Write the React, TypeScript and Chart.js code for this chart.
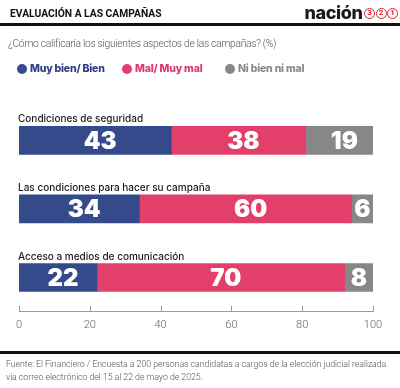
import React, { useEffect, useRef } from "react";
import { Chart, registerables } from "chart.js";

Chart.register(...registerables);

const categories = [
  "Condiciones de seguridad",
  "Las condiciones para hacer su campaña",
  "Acceso a medios de comunicación",
];
const seriesNames = ["Muy bien/ Bien", "Mal/ Muy mal", "Ni bien ni mal"];
const muyBien = [43, 34, 22];
const malMuyMal = [38, 60, 70];
const niBienNiMal = [19, 6, 8];
const xTickValues = [0, 20, 40, 60, 80, 100];

const barColors = ["#354a8b", "#e2406b", "#878787"];
const legendTextColors = ["#2c3e82", "#e0366a", "#8a8a8a"];

const overlayPlugin = {
  id: "overlayPlugin",
  afterDatasetsDraw(chart: any) {
    const ctx = chart.ctx;
    chart.data.datasets.forEach((ds: any, di: number) => {
      const meta = chart.getDatasetMeta(di);
      meta.data.forEach((bar: any, i: number) => {
        const { x, y } = bar.getCenterPoint();
        const p = bar.getProps(["x", "base"], true);
        const w = Math.abs(p.x - p.base);
        const shift = w > 40 ? 5 : 0;
        ctx.save();
        ctx.font = "900 24px Inter";
        ctx.fillStyle = "#ffffff";
        ctx.textAlign = "center";
        ctx.textBaseline = "middle";
        ctx.fillText(String(ds.data[i]), x + shift, y + 1);
        ctx.restore();
      });
    });
    const meta0 = chart.getDatasetMeta(0);
    meta0.data.forEach((bar: any, i: number) => {
      const p = bar.getProps(["y", "height"], true);
      ctx.save();
      ctx.font = "500 10px Inter";
      ctx.fillStyle = "#1a1a1a";
      ctx.textAlign = "left";
      ctx.textBaseline = "alphabetic";
      ctx.fillText(categories[i], chart.chartArea.left - 1, p.y - p.height / 2 - 4);
      ctx.restore();
    });
  },
  afterDraw(chart: any) {
    const ctx = chart.ctx;
    const xs = chart.scales.x;
    ctx.save();
    ctx.strokeStyle = "#9a9a9a";
    ctx.lineWidth = 1;
    xs.ticks.forEach((t: any) => {
      const px = Math.round(xs.getPixelForValue(t.value)) + 0.5;
      ctx.beginPath();
      ctx.moveTo(px, xs.top);
      ctx.lineTo(px, xs.top - 6);
      ctx.stroke();
    });
    ctx.restore();
  },
};

function ChartCanvas() {
  const ref = useRef<HTMLCanvasElement | null>(null);
  useEffect(() => {
    if (!ref.current) return;
    const chart = new Chart(ref.current, {
      type: "bar",
      data: {
        labels: categories,
        datasets: [
          { label: seriesNames[0], data: muyBien, backgroundColor: barColors[0] },
          { label: seriesNames[1], data: malMuyMal, backgroundColor: barColors[1] },
          { label: seriesNames[2], data: niBienNiMal, backgroundColor: barColors[2] },
        ],
      },
      options: {
        indexAxis: "y",
        responsive: false,
        animation: false,
        devicePixelRatio: 1,
        datasets: { bar: { barThickness: 28 } },
        layout: { padding: { top: 106, left: 19, right: 27, bottom: 49 } },
        plugins: {
          legend: { display: false },
          tooltip: { enabled: false },
        },
        scales: {
          x: {
            stacked: true,
            min: 0,
            max: 100,
            afterBuildTicks: (scale: any) => {
              scale.ticks = xTickValues.map((v) => ({ value: v }));
            },
            grid: { display: false, drawTicks: false },
            border: { display: true, color: "#9a9a9a", width: 1 },
            ticks: {
              padding: 7,
              color: "#666666",
              font: { family: "Roboto", size: 11, weight: 300 },
            },
          },
          y: {
            stacked: true,
            display: false,
          },
        },
      },
      plugins: [overlayPlugin],
    } as any);
    return () => chart.destroy();
  }, []);
  return (
    <canvas
      ref={ref}
      width={400}
      height={388}
      style={{ position: "absolute", left: 0, top: 0, width: 400, height: 388 }}
    />
  );
}

function Circled({ n }: { n: string }) {
  return (
    <span
      style={{
        display: "inline-flex",
        alignItems: "center",
        justifyContent: "center",
        width: 9,
        height: 9,
        borderRadius: "50%",
        border: "1.5px solid #d8232a",
        color: "#d8232a",
        fontSize: 8,
        fontWeight: 700,
        fontFamily: "Roboto",
        marginLeft: 0.5,
        lineHeight: 1,
      }}
    >
      {n}
    </span>
  );
}

export default function App() {
  return (
    <div
      style={{
        position: "absolute",
        left: 0,
        top: 0,
        width: 400,
        height: 388,
        background: "#ffffff",
        overflow: "hidden",
      }}
    >
      <ChartCanvas />
      <div
        style={{
          position: "absolute",
          left: 10,
          top: 7,
          fontFamily: "Roboto",
          fontWeight: 700,
          fontSize: 10.3,
          color: "#111",
          lineHeight: "14px",
        }}
      >
        EVALUACIÓN A LAS CAMPAÑAS
      </div>
      <div
        style={{
          position: "absolute",
          right: 2,
          top: 3,
          display: "flex",
          alignItems: "center",
          fontFamily: "Inter",
          fontWeight: 800,
          fontSize: 18,
          color: "#1a1a1a",
          lineHeight: "20px",
        }}
      >
        <span style={{ letterSpacing: -0.4, marginRight: 1 }}>nación</span>
        <Circled n="3" />
        <Circled n="2" />
        <Circled n="1" />
      </div>
      <div
        style={{
          position: "absolute",
          left: 0,
          top: 23,
          width: 400,
          height: 2.5,
          background: "#111",
        }}
      />
      <div
        style={{
          position: "absolute",
          left: 8,
          top: 37,
          fontFamily: "Roboto",
          fontWeight: 300,
          fontSize: 10.3,
          letterSpacing: -0.3,
          color: "#555",
          lineHeight: "14px",
          whiteSpace: "nowrap",
        }}
      >
        ¿Cómo calificaría los siguientes aspectos de las campañas? (%)
      </div>
      {seriesNames.map((name, i) => (
        <div
          key={name}
          style={{
            position: "absolute",
            left: [17, 122, 225][i],
            top: 62,
            display: "flex",
            alignItems: "center",
            fontFamily: "Inter",
            fontWeight: 800,
            fontSize: 10.5,
            letterSpacing: -0.2,
            color: legendTextColors[i],
            lineHeight: "14px",
            whiteSpace: "nowrap",
          }}
        >
          <span
            style={{
              display: "inline-block",
              width: 10,
              height: 10,
              borderRadius: "50%",
              background: barColors[i],
              marginRight: 3,
            }}
          />
          {name}
        </div>
      ))}
      <div
        style={{
          position: "absolute",
          left: 0,
          top: 351,
          width: 400,
          height: 2.5,
          background: "#111",
        }}
      />
      <div
        style={{
          position: "absolute",
          left: 6,
          top: 358,
          fontFamily: "Roboto",
          fontWeight: 300,
          fontSize: 8.8,
          letterSpacing: -0.05,
          color: "#555",
          lineHeight: "13px",
          whiteSpace: "nowrap",
        }}
      >
        Fuente: El Financiero / Encuesta a 200 personas candidatas a cargos de la elección judicial realizada
        <br />
        vía correo electrónico del 15 al 22 de mayo de 2025.
      </div>
    </div>
  );
}
